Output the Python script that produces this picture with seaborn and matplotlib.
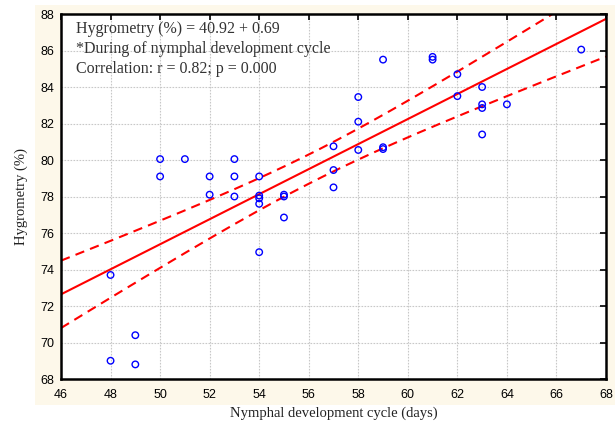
import numpy as np
import pandas as pd
import matplotlib
matplotlib.use("Agg")
import matplotlib.pyplot as plt
import seaborn as sns
from matplotlib.patches import Rectangle

# =========================
# data
# =========================
cycle_days = [48, 48, 49, 49, 50, 50, 51, 52, 52, 53, 53, 53,
              54, 54, 54, 54, 54, 55, 55, 55, 57, 57, 57, 58, 58, 58,
              59, 59, 59, 61, 61, 62, 62, 63, 63, 63, 63, 64, 67]
hygrometry = [73.7, 69.0, 70.4, 68.8, 80.05, 79.1, 80.05, 79.1, 78.1, 80.05, 79.1, 78.0,
              79.1, 78.05, 77.9, 77.6, 74.95, 78.1, 78.0, 76.85, 80.75, 79.45, 78.5, 83.45, 82.1, 80.55,
              85.5, 80.7, 80.6, 85.65, 85.5, 84.7, 83.5, 84.0, 83.05, 82.85, 81.4, 83.05, 86.05]

annot_lines = ["Hygrometry (%) = 40.92 + 0.69",
               "*During of nymphal development cycle",
               "Correlation: r = 0.82; p = 0.000"]
x_ticks = list(range(46, 69, 2))
y_ticks = list(range(68, 89, 2))

df = pd.DataFrame({"days": cycle_days, "hyg": hygrometry})

# =========================
# regression + 95% confidence band
# =========================
x = df["days"].to_numpy(float)
y = df["hyg"].to_numpy(float)
n = len(x)
b, a = np.polyfit(x, y, 1)
resid = y - (a + b * x)
s = np.sqrt((resid ** 2).sum() / (n - 2))
t_val = 2.026  # t(0.975, 37)
xs = np.linspace(46, 68, 300)
fit = a + b * xs
half = t_val * s * np.sqrt(1.0 / n + (xs - x.mean()) ** 2 / ((x - x.mean()) ** 2).sum())
band = pd.DataFrame({"x": xs, "fit": fit, "lo": fit - half, "hi": fit + half})

# =========================
# plot
# =========================
sns.set_style("white")
plt.rcParams["font.family"] = ["Liberation Sans", "DejaVu Sans"]

fig = plt.figure(figsize=(6.15, 4.21), dpi=100)
fig.patches.append(Rectangle((35 / 615, 1 - 405 / 421), 580 / 615, 400 / 421,
                             transform=fig.transFigure, facecolor="#fdf8ea",
                             edgecolor="none", zorder=-10))
ax = fig.add_axes([61 / 615, 1 - 379 / 421, 545 / 615, 365 / 421])
ax.set_facecolor("white")

sns.lineplot(data=band, x="x", y="fit", ax=ax, color="red", linewidth=1.5)
sns.lineplot(data=band, x="x", y="hi", ax=ax, color="red", linewidth=1.5,
             linestyle=(0, (4.5, 3)))
sns.lineplot(data=band, x="x", y="lo", ax=ax, color="red", linewidth=1.5,
             linestyle=(0, (4.5, 3)))
sns.scatterplot(data=df, x="days", y="hyg", ax=ax, marker="o", s=22,
                facecolor="none", edgecolor="blue", linewidth=1.0, zorder=5)

ax.set_xlim(46, 68)
ax.set_ylim(68, 88)
ax.set_xticks(x_ticks)
ax.set_yticks(y_ticks)
ax.grid(True, color="#c8c8c8", linestyle=(0, (1.5, 1.2)), linewidth=0.8)
ax.tick_params(direction="in", length=4, width=1.2, top=True, right=True,
               labelsize=9, colors="black")
ax.tick_params(axis="x", pad=7)
ax.tick_params(axis="y", pad=5)
for sp in ax.spines.values():
    sp.set_color("black")
    sp.set_linewidth(1.8)

serif = ["Liberation Serif", "DejaVu Serif"]
ax.set_xlabel("Nymphal development cycle (days)", family=serif, fontsize=10.5,
              color="#222222", labelpad=4)
ax.set_ylabel("Hygrometry (%)", family=serif, fontsize=10.5, color="#222222",
              labelpad=9)

for i, line in enumerate(annot_lines):
    fig.text(76 / 615, 1 - (29 + 20 * i) / 421, line,
             family=serif, fontsize=11.5, color="#333333", va="center")

fig.savefig("out.png", dpi=100)
